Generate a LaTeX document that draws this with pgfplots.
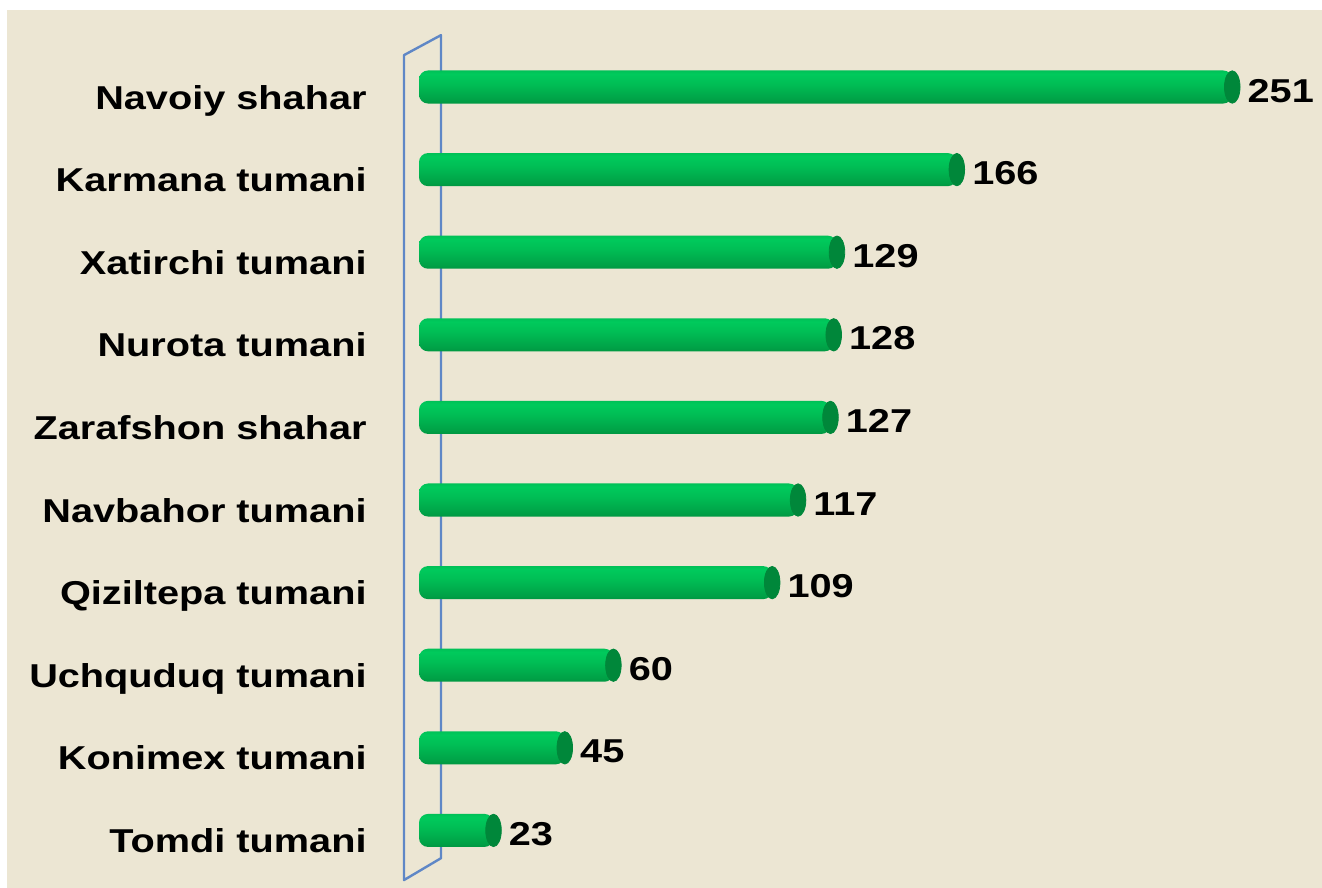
\documentclass[border=0pt]{standalone}
\usepackage{fontspec}
\setmainfont{Liberation Sans}
\newfontfamily\lab[FakeStretch=1.2]{Liberation Sans}
\usepackage{pgfplots}
\pgfplotsset{compat=1.18}
\definecolor{bg}{RGB}{236,230,211}
\definecolor{wall}{RGB}{95,135,198}
\definecolor{g0}{RGB}{0,85,35}
\definecolor{g1}{RGB}{0,120,50}
\definecolor{g2}{RGB}{0,160,70}
\definecolor{g3}{RGB}{0,190,85}
\definecolor{g4}{RGB}{0,202,92}
\definecolor{g5}{RGB}{0,172,76}
\definecolor{g6}{RGB}{20,128,60}
\definecolor{g7}{RGB}{110,155,115}
\definecolor{gcap}{RGB}{0,135,58}
\pgfdeclareverticalshading{cylshade}{100bp}{color(0bp)=(g0); color(8bp)=(g1); color(30bp)=(g2); color(55bp)=(g3); color(70bp)=(g4); color(86bp)=(g5); color(95bp)=(g6); color(100bp)=(g7)}
\begin{document}
\begin{tikzpicture}
\useasboundingbox (0,0) rectangle (661bp,-444bp);
\fill[white] (0,0) rectangle (661bp,-444bp);
\fill[bg] (3.5bp,-5bp) rectangle (661bp,-444bp);
\begin{axis}[
  at={(209.5bp,-435.85bp)}, anchor=south west,
  scale only axis, width=451.5bp, height=413bp,
  xmin=0, xmax=278.7, ymin=-0.5, ymax=9.5,
  y dir=reverse, clip=false,
  hide x axis,
  y axis line style={draw=none}, ytick style={draw=none},
  ytick={0,...,9},
  yticklabels={Navoiy shahar, Karmana tumani, Xatirchi tumani, Nurota tumani, Zarafshon shahar, Navbahor tumani, Qiziltepa tumani, Uchquduq tumani, Konimex tumani, Tomdi tumani},
  yticklabel style={anchor=base east, inner sep=0pt, xshift=-26bp, yshift=-11bp, font=\lab\bfseries\fontsize{16.6}{19}\selectfont, text=black},
  cyl/.style={xbar, bar shift=0pt, bar width=0.4, draw=none, shading=cylshade, rounded corners=4.5bp, forget plot},
]
\draw[wall, line width=1.2bp, line join=round] (axis cs:-4.63,-0.386) -- (axis cs:6.79,-0.628) -- (axis cs:6.79,9.336) -- (axis cs:-4.63,9.601) -- cycle;
\addplot[cyl] coordinates {(251,0)};
\addplot[cyl] coordinates {(166,1)};
\addplot[cyl] coordinates {(129,2)};
\addplot[cyl] coordinates {(128,3)};
\addplot[cyl] coordinates {(127,4)};
\addplot[cyl] coordinates {(117,5)};
\addplot[cyl] coordinates {(109,6)};
\addplot[cyl] coordinates {(60,7)};
\addplot[cyl] coordinates {(45,8)};
\addplot[cyl] coordinates {(23,9)};
\addplot[only marks, color=gcap, mark=*, mark size=8.1bp,
  mark options={xscale=0.48, fill=gcap, draw=gcap},
  point meta=explicit symbolic, nodes near coords,
  nodes near coords style={anchor=base west, inner sep=0pt, xshift=7.5bp, yshift=-7.5bp, font=\lab\bfseries\fontsize{16.6}{19}\selectfont, text=black}]
coordinates {(251,0)[251] (166,1)[166] (129,2)[129] (128,3)[128] (127,4)[127] (117,5)[117] (109,6)[109] (60,7)[60] (45,8)[45] (23,9)[23]};
\end{axis}
\end{tikzpicture}
\end{document}
